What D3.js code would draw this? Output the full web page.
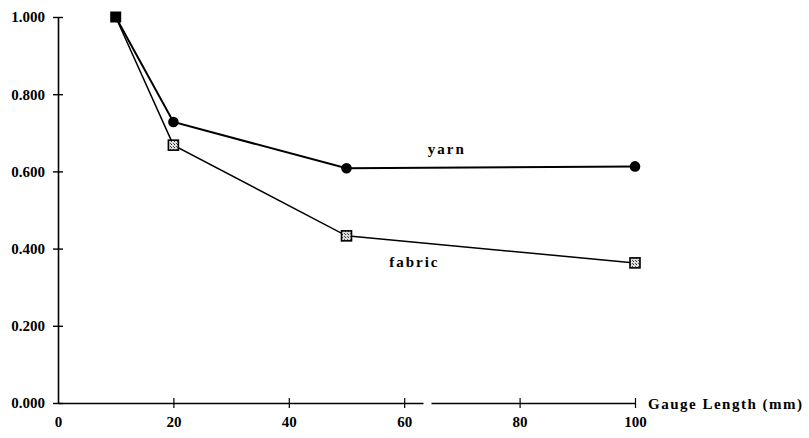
<!DOCTYPE html>
<html><head><meta charset="utf-8">
<script src="https://cdn.jsdelivr.net/npm/d3@7"></script>
<style>body{margin:0;background:#fff}svg{display:block}
svg text{font-family:"Liberation Serif","Times New Roman",Times,"DejaVu Serif",serif !important;font-weight:bold;fill:#000}</style>
</head><body>
<svg id="c" width="809" height="438"></svg>
<script>
const gauge = [10, 20, 50, 100];
const yarn = [1.000, 0.728, 0.608, 0.613];
const fabric = [1.000, 0.668, 0.433, 0.363];
const xTicks = [0, 20, 40, 60, 80, 100];
const yTicks = [0, 0.2, 0.4, 0.6, 0.8, 1.0];

const svg = d3.select("#c");
const x = d3.scaleLinear().domain([0, 100]).range([58, 635]);
const y = d3.scaleLinear().domain([0, 1]).range([403, 17]);

const defs = svg.append("defs");
const pat = defs.append("pattern").attr("id","hatch").attr("width",3).attr("height",3).attr("patternUnits","userSpaceOnUse");
pat.append("rect").attr("width",3).attr("height",3).attr("fill","#ddd");
pat.append("rect").attr("width",1).attr("height",1).attr("fill","#333");
pat.append("rect").attr("x",2).attr("y",2).attr("width",1).attr("height",1).attr("fill","#555");

// y axis
const ya = svg.append("g").attr("transform",`translate(${x(0)},0)`)
  .call(d3.axisLeft(y).tickValues(yTicks).tickFormat(d3.format(".3f")).tickSizeInner(5).tickSizeOuter(0).tickPadding(8));
ya.attr("font-family",null);
ya.select(".domain").attr("stroke","#000").attr("stroke-width",1.6);
ya.selectAll(".tick line").attr("x2",5).attr("x1",-5).attr("stroke-width",1.4);
ya.selectAll(".tick text").attr("font-size",15);

// x axis
const xa = svg.append("g").attr("transform",`translate(0,${y(0)})`)
  .call(d3.axisBottom(x).tickValues(xTicks).tickFormat(d3.format("d")).tickSizeInner(5).tickSizeOuter(0).tickPadding(8));
xa.attr("font-family",null);
xa.select(".domain").attr("stroke","#000").attr("stroke-width",1.4).attr("stroke-dasharray","365 8 300");
xa.selectAll(".tick line").attr("y1",-5).attr("y2",5).attr("stroke-width",1.2);
xa.selectAll(".tick").filter(d=>d===0).select("line").remove();
xa.selectAll(".tick text").attr("font-size",15);

svg.append("text").attr("x", x(100)+13).attr("y", y(0)+6).attr("font-size",15)
  .attr("letter-spacing",1.5).text("Gauge Length (mm)");

const line = d3.line().x((d,i)=>x(gauge[i])).y(d=>y(d));
svg.append("path").datum(fabric).attr("d",line).attr("fill","none").attr("stroke","#000").attr("stroke-width",1.5);
svg.append("path").datum(yarn).attr("d",line).attr("fill","none").attr("stroke","#000").attr("stroke-width",2);

// yarn markers
svg.selectAll(".yc").data(yarn.slice(1)).enter().append("circle")
  .attr("cx",(d,i)=>x(gauge[i+1])).attr("cy",d=>y(d)).attr("r",5.3).attr("fill","#000");
// fabric markers
svg.selectAll(".fs").data(fabric.slice(1)).enter().append("rect")
  .attr("x",(d,i)=>x(gauge[i+1])-5).attr("y",d=>y(d)-5).attr("width",10).attr("height",10)
  .attr("fill","url(#hatch)").attr("stroke","#000").attr("stroke-width",1.6);
// shared first point
svg.append("rect").attr("x",x(gauge[0])-5.5).attr("y",y(yarn[0])-5.5).attr("width",11).attr("height",11).attr("fill","#000");

svg.append("text").attr("x", x(64.1)).attr("y", y(0.645)).attr("font-size",15).attr("letter-spacing",2).text("yarn");
svg.append("text").attr("x", x(57.4)).attr("y", y(0.352)).attr("font-size",15).attr("letter-spacing",2).text("fabric");
</script>
</body></html>
